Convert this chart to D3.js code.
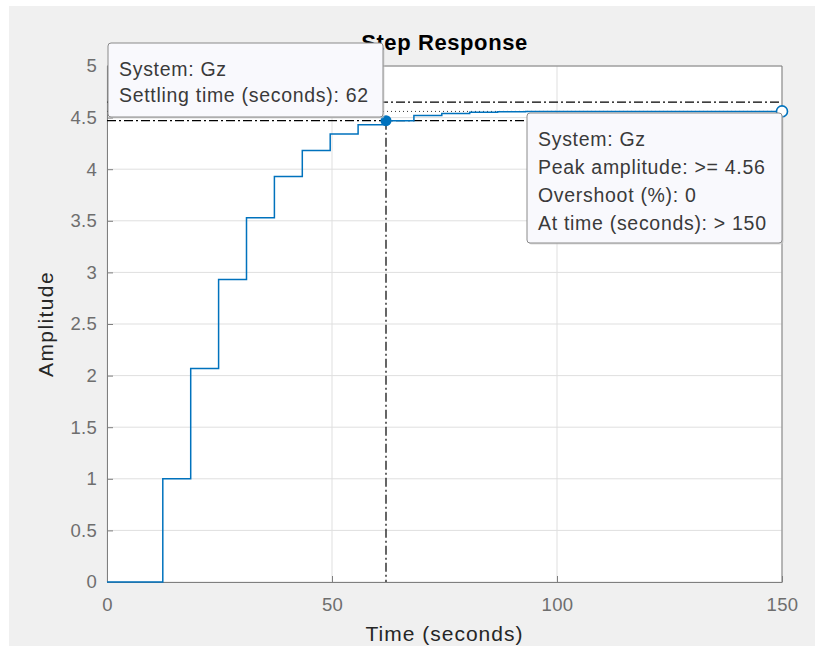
<!DOCTYPE html>
<html>
<head>
<meta charset="utf-8">
<script src="https://cdn.jsdelivr.net/npm/d3@7"></script>
<style>
  body { margin: 0; background: #fff; }
  svg text { font-family: "Liberation Sans", Arial, sans-serif; }
</style>
</head>
<body>
<div id="chart"></div>
<script>
// sample times (s) and step response amplitude of Gz
var times = [0, 6.2, 12.4, 18.6, 24.8, 31, 37.2, 43.4, 49.6, 55.8, 62, 68.2, 74.4, 80.6,
             86.8, 93, 99.2, 105.4, 111.6, 117.8, 124, 130.2, 136.4, 142.6, 148.8, 150];
var amps = [0, 0, 1.00, 2.07, 2.93, 3.53, 3.93, 4.18, 4.34, 4.43, 4.47, 4.52, 4.54, 4.552,
            4.556, 4.558, 4.559, 4.56, 4.56, 4.56, 4.56, 4.56, 4.56, 4.56, 4.56, 4.56];
var xTicks = [0, 50, 100, 150];
var yTicks = [0, 0.5, 1, 1.5, 2, 2.5, 3, 3.5, 4, 4.5, 5];

var finalValue = 4.56;
var settleBand = [4.47, 4.65];
var settleTime = 62, settleAmp = 4.47;

var tipLeft = ["System: Gz", "Settling time (seconds): 62"];
var tipRight = ["System: Gz", "Peak amplitude: >= 4.56", "Overshoot (%): 0", "At time (seconds): > 150"];

var W = 815, H = 646;
var margin = {top: 66, right: 33, bottom: 64, left: 107};
var width = W - margin.left - margin.right,
    height = H - margin.top - margin.bottom;

var svg = d3.select("#chart").append("svg")
    .attr("width", W)
    .attr("height", H);

// figure panel
svg.append("rect")
    .attr("x", 9).attr("y", 6)
    .attr("width", W - 9).attr("height", H - 6)
    .attr("fill", "#f0f0f0");

var x = d3.scaleLinear().domain([0, 150]).range([0, width]),
    y = d3.scaleLinear().domain([0, 5]).range([height, 0]);

var g = svg.append("g")
    .attr("transform", "translate(" + margin.left + "," + margin.top + ")");

g.append("rect")
    .attr("width", width).attr("height", height)
    .attr("fill", "#fff");

// grid
g.selectAll(".gx").data(xTicks).enter().append("line")
    .attr("x1", d => x(d)).attr("x2", d => x(d))
    .attr("y1", 0).attr("y2", height)
    .attr("stroke", "#dfdfdf").attr("stroke-width", 1);
g.selectAll(".gy").data(yTicks).enter().append("line")
    .attr("x1", 0).attr("x2", width)
    .attr("y1", d => y(d)).attr("y2", d => y(d))
    .attr("stroke", "#dfdfdf").attr("stroke-width", 1);

// axes
var xAxis = g.append("g")
    .attr("transform", "translate(0," + height + ")")
    .call(d3.axisBottom(x).tickValues(xTicks).tickSizeInner(-6).tickSizeOuter(0).tickPadding(16));
var yAxis = g.append("g")
    .call(d3.axisLeft(y).tickValues(yTicks).tickSizeInner(-6).tickSizeOuter(0).tickPadding(10)
        .tickFormat(d3.format("")));

[xAxis, yAxis].forEach(function (a) {
    a.select(".domain").attr("stroke", "#7f7f7f");
    a.selectAll(".tick line").attr("stroke", "#7f7f7f");
    a.selectAll(".tick text")
        .attr("fill", "#6e6e6e")
        .style("font-size", "18.5px")
        .style("letter-spacing", "0.3px");
});

// box top/right
g.append("line").attr("x1", 0).attr("x2", width).attr("y1", 0).attr("y2", 0)
    .attr("stroke", "#7f7f7f");
g.append("line").attr("x1", width).attr("x2", width).attr("y1", 0).attr("y2", height)
    .attr("stroke", "#7f7f7f");

// labels
svg.append("text")
    .attr("x", margin.left + width / 2).attr("y", 641)
    .attr("text-anchor", "middle")
    .attr("fill", "#262626")
    .style("font-size", "21px")
    .style("letter-spacing", "1px")
    .text("Time (seconds)");
svg.append("text")
    .attr("transform", "translate(53," + (margin.top + height / 2) + ")rotate(-90)")
    .attr("text-anchor", "middle")
    .attr("fill", "#262626")
    .style("font-size", "21px")
    .style("letter-spacing", "1.4px")
    .text("Amplitude");
svg.append("text")
    .attr("x", margin.left + width / 2).attr("y", 50)
    .attr("text-anchor", "middle")
    .attr("fill", "#000")
    .style("font-size", "22px")
    .style("font-weight", "bold")
    .style("letter-spacing", "0.6px")
    .text("Step Response");

// reference lines
var dashDot = "9,3,2,3";
settleBand.forEach(function (v) {
    g.append("line")
        .attr("x1", 0).attr("x2", width)
        .attr("y1", y(v)).attr("y2", y(v))
        .attr("stroke", "#000").attr("stroke-width", 1.2)
        .attr("stroke-dasharray", dashDot);
});
g.append("line")
    .attr("x1", 0).attr("x2", width)
    .attr("y1", y(finalValue)).attr("y2", y(finalValue))
    .attr("stroke", "#333").attr("stroke-width", 1)
    .attr("stroke-dasharray", "1,3");
g.append("line")
    .attr("x1", x(settleTime)).attr("x2", x(settleTime))
    .attr("y1", y(settleAmp)).attr("y2", height)
    .attr("stroke", "#000").attr("stroke-width", 1.2)
    .attr("stroke-dasharray", dashDot);

// step response
var data = times.map((t, i) => ({t: t, v: amps[i]}));
var line = d3.line()
    .x(d => x(d.t))
    .y(d => y(d.v))
    .curve(d3.curveStepAfter);
g.append("path")
    .datum(data)
    .attr("fill", "none")
    .attr("stroke", "#0072bd")
    .attr("stroke-width", 1.5)
    .attr("d", line);

// markers
g.append("circle")
    .attr("cx", x(settleTime)).attr("cy", y(settleAmp)).attr("r", 5.5)
    .attr("fill", "#0072bd");
g.append("circle")
    .attr("cx", x(150)).attr("cy", y(finalValue)).attr("r", 5.5)
    .attr("fill", "#fff").attr("stroke", "#0072bd").attr("stroke-width", 1.6);

// data tips
function dataTip(px, py, w, h, lines, step) {
    var tip = svg.append("g").attr("transform", "translate(" + px + "," + py + ")");
    tip.append("rect")
        .attr("x", 1.5).attr("y", 1.5)
        .attr("width", w).attr("height", h).attr("rx", 3)
        .attr("fill", "#c8c8c8").attr("opacity", 0.6);
    tip.append("rect")
        .attr("width", w).attr("height", h).attr("rx", 3)
        .attr("fill", "#f9f9fd")
        .attr("stroke", "#8a8a8a").attr("stroke-width", 1);
    tip.selectAll("text").data(lines).enter().append("text")
        .attr("x", 11)
        .attr("y", (d, i) => 33 + i * step)
        .attr("fill", "#3a3a3a")
        .style("font-size", "19.5px")
        .style("letter-spacing", "0.7px")
        .text(d => d);
}
dataTip(108, 43, 275, 74, tipLeft, 26);
dataTip(527, 113, 255, 130, tipRight, 28);
</script>
</body>
</html>
